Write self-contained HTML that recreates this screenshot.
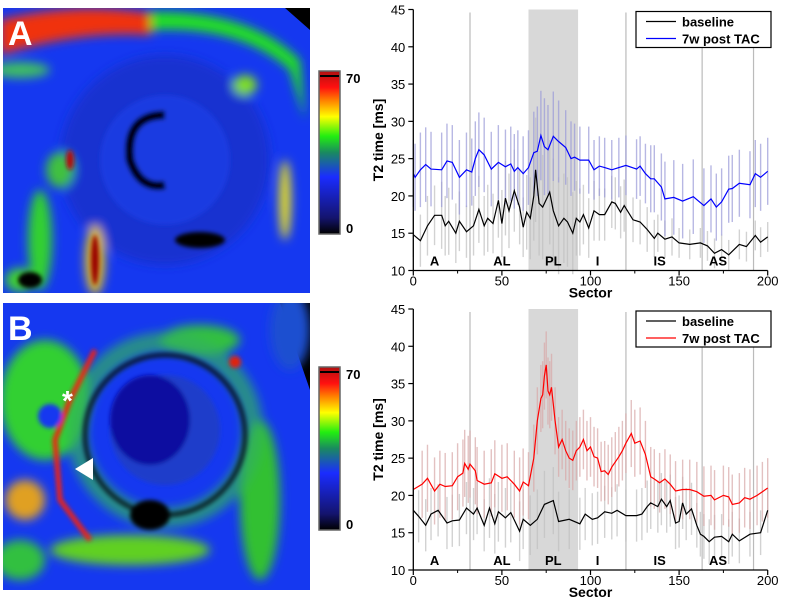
<!DOCTYPE html>
<html><head><meta charset="utf-8"><style>
html,body{margin:0;padding:0;background:#fff;}
svg{display:block;font-family:"Liberation Sans",sans-serif;}
</style></head><body>
<svg id="root" width="785" height="606" viewBox="0 0 785 606">
<defs>
<filter id="blur2" x="-20%" y="-20%" width="140%" height="140%"><feGaussianBlur stdDeviation="2.2"/></filter>
<filter id="blur4" x="-20%" y="-20%" width="140%" height="140%"><feGaussianBlur stdDeviation="5"/></filter>
<linearGradient id="cbar" x1="0" y1="1" x2="0" y2="0">
<stop offset="0" stop-color="#000"/><stop offset="0.1" stop-color="#14146e"/><stop offset="0.35" stop-color="#1a2cff"/>
<stop offset="0.5" stop-color="#1a8a60"/><stop offset="0.6" stop-color="#22ee10"/><stop offset="0.72" stop-color="#ffff00"/>
<stop offset="0.82" stop-color="#ff8000"/><stop offset="0.9" stop-color="#ff1010"/><stop offset="1" stop-color="#b01010"/>
</linearGradient>
<clipPath id="clipA"><rect x="3" y="8" width="307" height="285"/></clipPath>
<clipPath id="clipB"><rect x="3" y="303" width="307" height="287"/></clipPath>
</defs>

<!-- MRI panel A -->
<g clip-path="url(#clipA)">
<rect x="3" y="8" width="307" height="285" fill="#1538f0"/>
<polygon points="285,8 310,8 310,30" fill="#000"/>
<g filter="url(#blur4)">
<path d="M0,20 Q80,0 160,15 L150,35 Q80,30 0,55Z" fill="#f03010"/>
<path d="M150,12 Q250,10 300,60 L305,120 L290,70 Q240,25 150,30Z" fill="#20e020"/>
<circle cx="165" cy="160" r="105" fill="#1a30c8" opacity="0.8"/>
<ellipse cx="285" cy="200" rx="6" ry="40" fill="#e8e020"/>
<ellipse cx="40" cy="240" rx="12" ry="50" fill="#30d030"/>
<ellipse cx="95" cy="260" rx="10" ry="35" fill="#e0c020"/>
<ellipse cx="60" cy="170" rx="14" ry="18" fill="#40c040"/>
<ellipse cx="245" cy="85" rx="12" ry="10" fill="#80e020"/>
<ellipse cx="20" cy="280" rx="15" ry="12" fill="#40d030"/>
<ellipse cx="20" cy="70" rx="30" ry="8" fill="#40c060"/>
</g>
<g filter="url(#blur2)">
<circle cx="165" cy="160" r="65" fill="#1840e8" opacity="0.7"/>
<path d="M165,115 Q125,115 130,160 Q140,190 165,185" fill="none" stroke="#000" stroke-width="9"/>
<ellipse cx="200" cy="240" rx="25" ry="8" fill="#000"/>
<ellipse cx="70" cy="160" rx="4" ry="10" fill="#b01010"/>
<ellipse cx="95" cy="260" rx="4" ry="25" fill="#900"/>
<ellipse cx="30" cy="280" rx="12" ry="8" fill="#000"/>
</g>
<text x="8" y="45" font-size="34" font-weight="bold" fill="#fff">A</text>
</g>
<rect x="319" y="71" width="21" height="163" fill="url(#cbar)" stroke="#666" stroke-width="1.5"/>
<rect x="320" y="75" width="19" height="2" fill="#000"/>
<text x="346" y="83" font-size="13" font-weight="bold">70</text>
<text x="346" y="233" font-size="13" font-weight="bold">0</text>

<!-- MRI panel B -->
<g clip-path="url(#clipB)">
<rect x="3" y="303" width="307" height="287" fill="#1538f0"/>
<polygon points="280,303 310,303 310,390" fill="#000"/>
<g filter="url(#blur4)">
<ellipse cx="45" cy="400" rx="45" ry="60" fill="#30d030"/>
<ellipse cx="25" cy="500" rx="20" ry="20" fill="#e0a020"/>
<ellipse cx="260" cy="500" rx="20" ry="80" fill="#30c030"/>
<ellipse cx="130" cy="550" rx="80" ry="15" fill="#60d020"/>
<ellipse cx="200" cy="340" rx="40" ry="15" fill="#30c040"/>
<circle cx="165" cy="430" r="88" fill="none" stroke="#30b060" stroke-width="20" opacity="0.7"/>
<ellipse cx="20" cy="560" rx="25" ry="20" fill="#30c040"/>
<ellipse cx="290" cy="330" rx="20" ry="40" fill="#1a50d0"/>
</g>
<g filter="url(#blur2)">
<path d="M95,350 L70,400 L55,440 L60,500 L90,540" fill="none" stroke="#f02010" stroke-width="5"/>
<circle cx="165" cy="435" r="80" fill="none" stroke="#000" stroke-width="5" opacity="0.7"/>
<circle cx="165" cy="430" r="55" fill="#2040c0" opacity="0.8"/>
<ellipse cx="150" cy="420" rx="40" ry="45" fill="#0f10a0"/>
<ellipse cx="150" cy="515" rx="20" ry="15" fill="#000"/>
<ellipse cx="235" cy="362" rx="6" ry="6" fill="#e02010"/>
<ellipse cx="50" cy="416" rx="12" ry="12" fill="#1538f0"/>
</g>
<text x="8" y="340" font-size="34" font-weight="bold" fill="#fff">B</text>
<text x="62" y="410" font-size="28" font-weight="bold" fill="#fff">*</text>
<polygon points="75,469 93,458 93,480" fill="#fff"/>
</g>
<rect x="319" y="367" width="21" height="163" fill="url(#cbar)" stroke="#666" stroke-width="1.5"/>
<rect x="320" y="371" width="19" height="2" fill="#000"/>
<text x="346" y="379" font-size="13" font-weight="bold">70</text>
<text x="346" y="529" font-size="13" font-weight="bold">0</text>

<g id="chartTop"></g>
<g id="chartBot"></g>
</svg>
<script>
// ---- data ----
const yTicks = [10,15,20,25,30,35,40,45];
const xTicks = [0,50,100,150,200];
const xMinorTicks = [25,75,125,175];
const sectorDividers = [32,120,163,192];
const shadedRange = [65,93];
const regionNames = ["A","AL","PL","I","IS","AS"];
const regionCenters = [12,50,79,104,139,172];

const topBaseX = [0,4,8,12,16,18,20,24,26,30,34,37,40,42,45,48,50,52,54,57,60,62,64,66,68,69,71,73,77,79,82,85,87,90,92,94,96,99,102,105,108,112,114,117,119,124,128,132,136,138,142,146,150,156,162,166,170,174,178,184,188,193,196,200];
const topBaseY = [14.8,14,16,17.4,17.4,16,16.6,15,16.6,15.2,16,18.2,16,17,16.3,19.4,16.3,19.7,18,20.7,18.5,15.8,17.8,17,20,23.5,19,18.5,20.5,18,16,17,16.5,15,17,16.5,17.5,15.7,18,17.5,17.5,19.2,19,17.8,18.7,16.8,16.5,15.5,14.3,15,14.2,14.5,13.7,13.5,13.7,13.3,12.3,12.8,12.1,13.5,13.2,14.7,13.8,14.5];
const topBaseErr = [3,3.5,4,4,4.5,4,4.5,4,4,3.5,4,4.5,4,4.5,4,5,4.5,5,5,5.5,5,4,5,5.5,6,7,7,7,7,7,6.5,6,6,5.5,5,4.5,4,4,4,3.5,3.5,3.5,3.5,3.5,3.5,3,3,3,2.5,2.5,2.5,2.5,2,2,2,2,2,2,2,2,2,2,2,2];
const topPostX = [0,1,4,7,10,16,19,22,26,30,33,35,37,40,44,48,52,55,57,59,62,65,68,70,72,74,76,79,82,86,89,91,94,99,102,105,108,112,116,120,126,128,131,134,136,140,142,147,152,158,164,168,171,174,178,180,184,190,193,196,200];
const topPostY = [23,22.5,23.5,24.2,23.6,23.5,24.7,24.5,22.5,23.5,23.2,25,26.2,25.5,23.6,24.5,23.9,24.3,23.3,23.8,23,23.8,25.8,26,28.1,26.6,26.2,28,27.3,26.5,25,25.2,24.8,24.8,23.5,24,23.8,23.5,23.8,24.1,23.6,24,23,22.3,22.3,21.2,19.6,19.8,19.3,19.9,18.7,19.6,18.5,19.2,20.9,21,21.7,21.5,23,22.5,23.3];
const topPostErr = [4.5,4.5,5,5,5,5,5,5,5,5,4.5,5,5,5,5,5,5,5,5,5,5,5,5.5,6,6,6.5,6,6,5.5,5,5,4.5,4.5,4.5,4,4,4,4,4,4,4,4,4,4.5,4.5,4.5,5,5,5,5,5,4.5,4.5,4.5,4.5,4.5,4.5,4.5,4.5,4.5,4.5];

const botBaseX = [0,3,7,10,14,19,22,26,30,34,36,40,43,46,48,52,55,60,62,66,70,74,79,82,88,94,97,101,104,108,112,115,120,126,129,132,134,138,140,143,145,148,150,152,154,157,160,162,164,167,170,174,178,180,184,190,196,200];
const botBaseY = [18,17.2,16,17.5,18,16.3,16.6,16.7,18.3,17.5,18.3,16,18.3,16.2,17.8,17,17.7,15.2,16.8,16,16.8,18.8,19.3,16.5,16.8,16.2,17.5,16.8,17,17.8,17.6,18,17.3,17.3,17.5,18.5,19,18.5,19.5,18.5,19.3,16.3,16.5,19,17.5,18.2,16,14.8,14.5,13.8,14.4,14.5,13.8,14.8,13.9,14.8,15,18];
const botBaseErr = [3.5,3.5,3.5,3.5,3.5,3.5,3.5,3.5,3.5,3.5,3.5,3.5,4,4,4,4,4,4,4,4,4,4.5,4.5,4,4,3.5,3.5,3.5,3.5,3.5,3.5,3.5,3.5,3.5,3.5,3.5,3.5,3.5,3.5,3.5,3.5,3.5,3.5,3.5,3.5,3.5,3,3,3,3,3,3,3,3,3,3,3,3];
const botPostX = [0,5,8,12,15,18,22,25,28,29,31,32,35,36,40,44,46,50,53,57,60,62,65,68,70,72,73,74,75,76,77,78,80,82,84,86,88,90,92,94,96,98,100,102,104,106,108,110,112,114,116,118,120,123,125,128,131,134,136,139,142,145,148,152,156,160,164,168,170,175,178,180,184,187,190,194,197,200];
const botPostY = [20.8,21.5,22.3,20.6,21.5,21.2,21.3,22.5,23,24.3,23.5,24.2,23.3,22,21.5,21.7,22.9,22.3,22.5,21.5,20.6,21.8,21.3,25,30,33,33.5,36,37.5,34,33.5,34.5,30,26.5,27.5,26,25,24.7,26,26.5,27.5,26,26.5,25.2,25,23.2,23.3,22.8,23.8,24.5,25.2,26,27,28.3,27,27.3,25.5,22.5,22.2,21.7,22.2,21.5,20.6,20.8,20.8,20.5,19.9,20,19.4,20,19.8,18.8,19,19.7,19.5,20,20.5,21];
const botPostErr = [4.5,4.5,4.5,4.5,4.5,4.5,4.5,4.5,4.5,4.5,4.5,4.5,4.5,4.5,4.5,4.5,4.5,4.5,4.5,4.5,4.5,4.5,4.5,4.5,4.5,4.5,4.5,4.5,4.5,4.5,4.5,4.5,4.5,4,4,4,4,4,4,4,4,4,4,4,4,4,4,4,4,4,4,4,4,4.5,4.5,4.5,4.5,4,4,4,4,4,4,4,4,4,4,4,4,4,4,4,4,4,4,4,4,4];

const NS = "http://www.w3.org/2000/svg";
function mk(tag, attrs, parent){ const e=document.createElementNS(NS,tag); for(const k in attrs) e.setAttribute(k,attrs[k]); parent.appendChild(e); return e; }

function drawChart(g, y0px, s1, s2, postColor, errColor2){
  const X0=413.3, X1=767.7;
  const xs = s => X0 + (s/200)*(X1-X0);
  const ys = v => y0px - (v-10)*(261/35);
  const top = ys(45), bot = ys(10);
  const sh = mk('rect',{x:xs(shadedRange[0]),y:top,width:xs(shadedRange[1])-xs(shadedRange[0]),height:bot-top,fill:'#d8d8d8'},g);
  
  
  sectorDividers.forEach(d=>{
    const l=mk('line',{x1:xs(d),x2:xs(d),y1:top+3,y2:bot,stroke:'#bbb','stroke-width':1.2},g);
    
    
  });
  [[s1,'#c0c0c0'],[s2,errColor2]].forEach(([s,c])=>{
    const eg=mk('g',{stroke:c,'stroke-width':1.4,opacity:0.7},g);
    
    
    s.x.forEach((sx,i)=>{
      mk('line',{x1:xs(sx),x2:xs(sx),y1:ys(s.y[i]-s.e[i]),y2:ys(s.y[i]+s.e[i])},eg);
    });
  });
  [[s1,'#000','baseline-line'],[s2,postColor,'post-tac-line']].forEach(([s,c,n])=>{
    const p=mk('polyline',{points:s.x.map((sx,i)=>xs(sx).toFixed(1)+','+ys(s.y[i]).toFixed(1)).join(' '),fill:'none',stroke:c,'stroke-width':1.2},g);
    
    
  });
  regionNames.forEach((r,i)=>{
    const t=mk('text',{x:xs(regionCenters[i]),y:ys(10)-5,'font-size':13,'font-weight':'bold','text-anchor':'middle'},g);
    t.textContent=r;
    
    
  });
  const ax=mk('path',{d:`M${X0},${top} V${bot} H${X1}`,stroke:'#000','stroke-width':1.3,fill:'none'},g);
  
  
  yTicks.forEach(v=>{
    mk('line',{x1:X0-5,x2:X0,y1:ys(v),y2:ys(v),stroke:'#000','stroke-width':1.2},g);
    const t=mk('text',{x:X0-8,y:ys(v)+5,'font-size':13,'text-anchor':'end'},g);
    t.textContent=v;
    
    
  });
  xTicks.forEach(v=>{
    mk('line',{x1:xs(v),x2:xs(v),y1:bot,y2:bot+5,stroke:'#000','stroke-width':1.2},g);
    const t=mk('text',{x:xs(v),y:bot+15,'font-size':13,'text-anchor':'middle'},g);
    t.textContent=v;
    
    
  });
  xMinorTicks.forEach(v=>{ mk('line',{x1:xs(v),x2:xs(v),y1:bot,y2:bot+3,stroke:'#000','stroke-width':1},g); });
  const xt=mk('text',{x:xs(100),y:bot+27,'font-size':14,'font-weight':'bold','text-anchor':'middle'},g);
  xt.textContent='Sector';
  
  
  const yt=mk('text',{x:0,y:0,'font-size':14,'font-weight':'bold','text-anchor':'middle',transform:`translate(383,${(top+bot)/2}) rotate(-90)`},g);
  yt.textContent='T2 time [ms]';
  
  
  const lg=mk('g',{},g);
  
  
  mk('rect',{x:636,y:top+2,width:135,height:36,fill:'#fff',stroke:'#000','stroke-width':1.2},lg);
  mk('line',{x1:646,x2:676,y1:top+12,y2:top+12,stroke:'#000','stroke-width':1.2},lg);
  mk('line',{x1:646,x2:676,y1:top+29,y2:top+29,stroke:postColor,'stroke-width':1.2},lg);
  const l1=mk('text',{x:682,y:top+17,'font-size':13,'font-weight':'bold'},lg); l1.textContent='baseline';
  
  
  const l2=mk('text',{x:682,y:top+34,'font-size':13,'font-weight':'bold'},lg); l2.textContent='7w post TAC';
  
  
}
drawChart(document.getElementById('chartTop'),270.5,
  {x:topBaseX,y:topBaseY,e:topBaseErr},{x:topPostX,y:topPostY,e:topPostErr},'#0000ff','#9a9ad8');
drawChart(document.getElementById('chartBot'),570,
  {x:botBaseX,y:botBaseY,e:botBaseErr},{x:botPostX,y:botPostY,e:botPostErr},'#ff0000','#d8a8a8');
</script>
</body></html>
